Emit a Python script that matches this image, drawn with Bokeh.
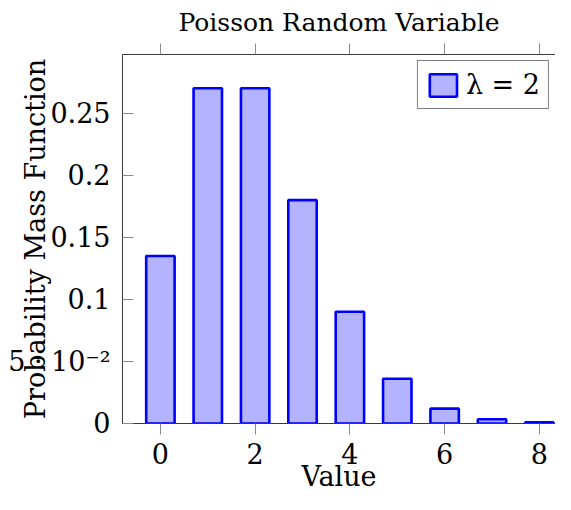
from bokeh.plotting import figure
from bokeh.models import ColumnDataSource, LinearAxis, FixedTicker, Legend, LegendItem
from bokeh.embed import file_html
from bokeh.resources import INLINE

values = [0, 1, 2, 3, 4, 5, 6, 7, 8]
pmf = [0.1353, 0.2707, 0.2707, 0.1804, 0.0902, 0.0361, 0.0120, 0.0034, 0.0009]
x_ticks = [0, 2, 4, 6, 8]
y_ticks = [0, 0.05, 0.1, 0.15, 0.2, 0.25]
y_tick_labels = ["0", "5 · 10⁻²", "0.1", "0.15", "0.2", "0.25"]
series_label = "λ = 2"

FONT = "DejaVu Serif"
FS = "27px"
AXIS_COLOR = "#3a3a3a"
TICK_COLOR = "#8a8a8a"

source = ColumnDataSource(dict(x=values, y=pmf))

p = figure(width=555, height=494, x_range=(-0.8, 8.34), y_range=(0, 0.298),
           output_backend="svg", toolbar_location=None,
           title="Poisson Random Variable",
           min_border_left=122, min_border_right=0, min_border_top=54, min_border_bottom=69)
p.outline_line_color = None
p.xgrid.visible = False
p.ygrid.visible = False
p.background_fill_color = "white"
p.border_fill_color = "white"

p.title.text_font = FONT
p.title.text_font_size = "25px"
p.title.text_font_style = "normal"
p.title.align = "center"
p.title.vertical_align = "middle"
p.title.text_color = "black"
p.title.standoff = 12

r = p.vbar(x="x", top="y", width=0.6, source=source,
           fill_color="#b3b3ff", line_color="#0000ff", line_width=2.6)

xa = p.xaxis[0]
xa.ticker = FixedTicker(ticks=x_ticks)
xa.minor_tick_line_color = None
xa.major_tick_in = 0
xa.major_tick_out = 11
xa.major_tick_line_color = TICK_COLOR
xa.axis_line_color = AXIS_COLOR
xa.major_label_text_font = FONT
xa.major_label_text_font_size = FS
xa.major_label_text_color = "black"
xa.major_label_standoff = 8
xa.axis_label = "Value"
xa.axis_label_text_font = FONT
xa.axis_label_text_font_size = FS
xa.axis_label_text_font_style = "normal"
xa.axis_label_text_color = "black"
xa.axis_label_standoff = -6

ya = p.yaxis[0]
ya.ticker = FixedTicker(ticks=y_ticks)
ya.major_label_overrides = {t: l for t, l in zip(y_ticks, y_tick_labels)}
ya.minor_tick_line_color = None
ya.major_tick_in = 11
ya.major_tick_out = 0
ya.major_tick_line_color = TICK_COLOR
ya.axis_line_color = AXIS_COLOR
ya.major_label_text_font = FONT
ya.major_label_text_font_size = FS
ya.major_label_text_color = "black"
ya.major_label_standoff = 12
ya.axis_label = "Probability Mass Function"
ya.axis_label_text_font = FONT
ya.axis_label_text_font_size = FS
ya.axis_label_text_font_style = "normal"
ya.axis_label_text_color = "black"
ya.axis_label_standoff = -46

top = LinearAxis(ticker=FixedTicker(ticks=x_ticks))
top.major_label_text_font_size = "1px"
top.major_label_text_color = None
top.major_label_standoff = 0
top.minor_tick_line_color = None
top.major_tick_in = 0
top.major_tick_out = 11
top.major_tick_line_color = TICK_COLOR
top.axis_line_color = AXIS_COLOR
p.add_layout(top, "above")

legend = Legend(items=[LegendItem(label=series_label, renderers=[r])],
                location="top_right")
legend.label_text_font = FONT
legend.label_text_font_size = FS
legend.label_text_color = "black"
legend.border_line_color = "black"
legend.border_line_width = 1
legend.background_fill_alpha = 1
legend.glyph_width = 34
legend.glyph_height = 28
legend.padding = 8
legend.margin = 6
legend.label_standoff = 6
legend.label_height = 28
p.add_layout(legend)

open("out.html", "w").write(file_html(p, INLINE))
